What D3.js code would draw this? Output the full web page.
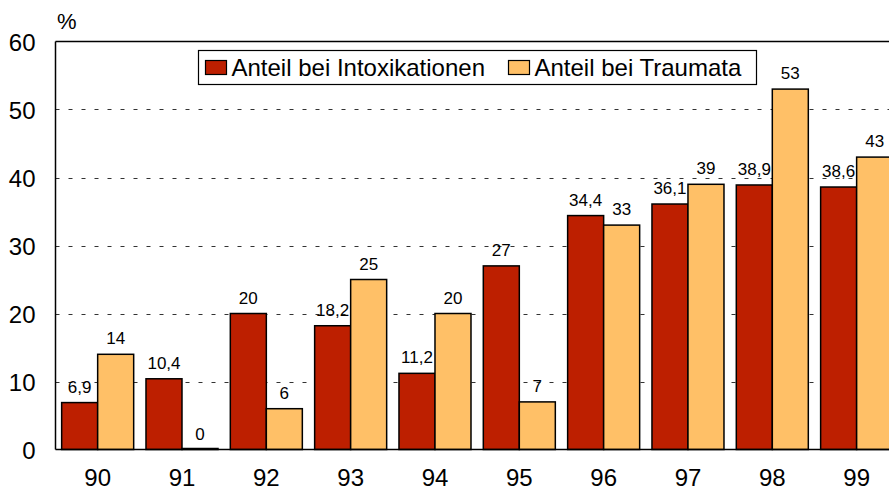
<!DOCTYPE html>
<html><head><meta charset="utf-8">
<script src="https://cdn.jsdelivr.net/npm/d3@7"></script>
<style>
html,body{margin:0;padding:0;background:#fff;overflow:hidden}
text{font-family:"Liberation Sans",Arial,sans-serif;fill:#000}
</style></head>
<body>
<svg id="c" width="889" height="492"></svg>
<script>
const categories = ["90","91","92","93","94","95","96","97","98","99"];
const seriesNames = ["Anteil bei Intoxikationen","Anteil bei Traumata"];
const intox = [6.9, 10.4, 20, 18.2, 11.2, 27, 34.4, 36.1, 38.9, 38.6];
const trauma = [14, 0, 6, 25, 20, 7, 33, 39, 53, 43];
const intoxLabels = ["6,9","10,4","20","18,2","11,2","27","34,4","36,1","38,9","38,6"];
const traumaLabels = ["14","0","6","25","20","7","33","39","53","43"];
const yTicks = [0,10,20,30,40,50,60];
const colors = ["#BD1F00","#FFC067"];

(function(){
const svg = d3.select("#c");
const pLeft = 55.5, pTop = 41.5, pBottom = 449.5, plotRight = 898.8;
const x0 = d3.scaleBand().domain(categories).range([pLeft, plotRight]).paddingInner(0).paddingOuter(0);
const x1 = d3.scaleBand().domain([0,1]).range([0, x0.bandwidth()]).paddingInner(0).paddingOuter(0.171);
const y = d3.scaleLinear().domain([0,60]).range([pBottom, pTop]);

// gridlines
svg.append("g").selectAll("line").data(yTicks.filter(t => t > 0 && t < 60)).join("line")
  .attr("x1", pLeft).attr("x2", 889).attr("y1", d => Math.round(y(d)) + 0.5).attr("y2", d => Math.round(y(d)) + 0.5)
  .attr("stroke", "#333").attr("stroke-width", 1).attr("stroke-dasharray", "4,9");

// bars
const data = categories.map((c, i) => ({c, vals: [intox[i], trauma[i]], labs: [intoxLabels[i], traumaLabels[i]]}));
const g = svg.append("g").selectAll("g").data(data).join("g")
  .attr("transform", d => `translate(${x0(d.c)},0)`);
g.selectAll("rect").data(d => d.vals.map((v, k) => ({v, k}))).join("rect")
  .attr("x", d => x1(d.k)).attr("width", x1.bandwidth())
  .attr("y", d => y(d.v) - (d.v === 0 ? 1 : 0)).attr("height", d => pBottom - y(d.v) + (d.v === 0 ? 1 : 0))
  .attr("fill", d => colors[d.k]).attr("stroke", "#000").attr("stroke-width", 1.5);
g.selectAll("text").data(d => d.vals.map((v, k) => ({v, k, lab: d.labs[k]}))).join("text")
  .attr("x", d => x1(d.k) + x1.bandwidth() / 2).attr("y", d => y(d.v) - 10)
  .attr("text-anchor", "middle").attr("font-size", 17).text(d => d.lab);

// axes frame
svg.append("line").attr("x1", pLeft).attr("x2", pLeft).attr("y1", pTop).attr("y2", pBottom).attr("stroke", "#000").attr("stroke-width", 1.5);
svg.append("line").attr("x1", pLeft).attr("x2", 889).attr("y1", pTop).attr("y2", pTop).attr("stroke", "#000").attr("stroke-width", 1.5);
svg.append("line").attr("x1", pLeft).attr("x2", 889).attr("y1", pBottom).attr("y2", pBottom).attr("stroke", "#000").attr("stroke-width", 1.5);

// y axis labels
const yAxis = d3.axisLeft(y).tickValues(yTicks).tickSize(0).tickPadding(20);
const ya = svg.append("g").attr("transform", `translate(${pLeft},0)`).call(yAxis);
ya.select(".domain").remove();
ya.selectAll("text").attr("font-size", 24).attr("dy", "0.38em").style("font-family", '"Liberation Sans",Arial,sans-serif').attr("fill", "#000");

// x axis labels
const xAxis = d3.axisBottom(x0).tickSize(0).tickPadding(19.5);
const xa = svg.append("g").attr("transform", `translate(0,${pBottom})`).call(xAxis);
xa.select(".domain").remove();
xa.selectAll("text").attr("font-size", 24).style("font-family", '"Liberation Sans",Arial,sans-serif').attr("fill", "#000");

// % label
svg.append("text").attr("x", 57).attr("y", 28.5).attr("font-size", 22).text("%");

// legend
const lg = svg.append("g");
lg.append("rect").attr("x", 198.5).attr("y", 50.5).attr("width", 558).attr("height", 34).attr("fill", "#fff").attr("stroke", "#000").attr("stroke-width", 1.2);
const legX = [205.5, 508.5];
seriesNames.forEach((s, k) => {
  lg.append("rect").attr("x", legX[k]).attr("y", 60.5).attr("width", 21).attr("height", 14).attr("fill", colors[k]).attr("stroke", "#000").attr("stroke-width", 1.2);
  lg.append("text").attr("x", legX[k] + 26).attr("y", 76).attr("font-size", 24).text(s);
});
})();
</script>
</body></html>
